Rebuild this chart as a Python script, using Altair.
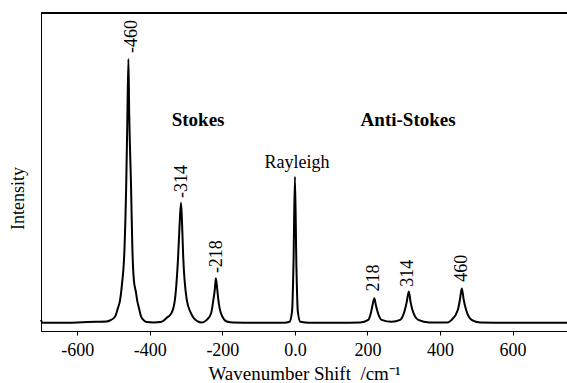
import altair as alt
import pandas as pd

# Spectrum trace (wavenumber shift, relative intensity)
shift = [-700, -696, -650, -600, -550, -519, -510, -496, -488, -482, -477, -470, -465, -462,
         -459, -457, -452, -448, -444, -438, -435, -430, -424, -416, -409, -390, -370,
         -354, -340, -331, -322, -318, -314, -311, -308, -298, -287, -266, -257,
         -243, -231, -225, -221, -218, -214, -211, -204, -188, -170, -100, -30,
         -15, -8, -4, 0, 4, 8, 15, 40, 120, 180,
         202, 210, 214, 219, 223, 228, 239, 267,
         290, 303, 308, 314, 319, 324, 340, 370, 420,
         432, 449, 455, 460, 465, 472, 487, 510, 600, 700, 750]
intensity = [3.5, 2.6, 2.6, 2.7, 2.9, 3.0, 3.3, 4.5, 7.2, 9.7, 14.5, 25.5, 46.5, 66.4,
             85.5, 69.5, 46.5, 25.5, 16.0, 12.0, 9.7, 7.2, 4.5, 3.3, 2.8, 2.7, 2.8,
             4.1, 5.7, 9.7, 23.4, 33.3, 40.3, 33.3, 23.4, 9.7, 5.7, 2.9, 2.7,
             3.5, 5.6, 9.7, 12.9, 16.6, 12.9, 9.7, 5.6, 3.0, 2.7, 2.6, 2.6,
             2.9, 6.1, 20.8, 48.5, 20.8, 6.1, 2.9, 2.6, 2.6, 2.7,
             3.5, 6.0, 8.2, 10.3, 8.2, 6.0, 3.5, 2.9,
             3.5, 6.6, 9.0, 12.4, 9.0, 6.6, 3.5, 2.7, 2.7,
             3.5, 6.6, 10.0, 13.4, 10.0, 6.6, 3.5, 2.7, 2.6, 2.6, 2.6]

# Rotated peak labels
peak_labels = ["-460", "-314", "-218", "218", "314", "460"]
peak_x = [-449, -310, -216, 218, 312, 460]
peak_y = [87.4, 41.8, 18.2, 12.4, 13.9, 15.5]

# Region labels
region_labels = ["Stokes", "Anti-Stokes"]
region_x = [-267, 312]
region_y = [66.4, 66.4]

ray_label = ["Rayleigh"]
ray_x = [5.5]
ray_y = [52.8]

tick_values = [-600, -400, -200, 0, 200, 400, 600]

spec = pd.DataFrame({"shift": shift, "intensity": intensity})
peaks = pd.DataFrame({"label": peak_labels, "x": peak_x, "y": peak_y})
regions = pd.DataFrame({"label": region_labels, "x": region_x, "y": region_y})
ray = pd.DataFrame({"label": ray_label, "x": ray_x, "y": ray_y})

FONT = "Liberation Serif"

xscale = alt.Scale(domain=[-700, 750], nice=False, zero=False)
yscale = alt.Scale(domain=[0, 100], nice=False, zero=False)

line = alt.Chart(spec).mark_line(color="black", strokeWidth=2, interpolate="monotone").encode(
    x=alt.X("shift:Q", scale=xscale,
            axis=alt.Axis(title="Wavenumber Shift\u00a0\u00a0/cm\u207b\u00b9", values=tick_values,
                          labelExpr="datum.value == 0 ? '0.0' : '' + datum.value",
                          grid=False, tickSize=4, tickColor="black", domainColor="black",
                          labelFont=FONT, labelFontSize=18, labelColor="black", labelPadding=6,
                          titleFont=FONT, titleFontSize=19, titleFontWeight="normal",
                          titleColor="black", titlePadding=5, labelFlush=False)),
    y=alt.Y("intensity:Q", scale=yscale,
            axis=alt.Axis(title="Intensity", labels=False, ticks=False, grid=False,
                          domainColor="black", titleFont=FONT, titleFontSize=18,
                          titleFontWeight="normal", titleColor="black",
                          titleX=-23, titleY=185, titleAngle=270,
                          titleAlign="center", titleBaseline="middle")),
)

top = alt.Chart(spec).mark_rule(color="black", strokeWidth=1).encode(y=alt.value(0))

plabels = alt.Chart(peaks).mark_text(angle=270, align="left", baseline="middle",
                                      font=FONT, fontSize=18, color="black").encode(
    x=alt.X("x:Q", scale=xscale), y=alt.Y("y:Q", scale=yscale), text="label:N")

rlabels = alt.Chart(regions).mark_text(align="center", baseline="middle", font=FONT,
                                        fontSize=19, fontWeight="bold", color="black").encode(
    x=alt.X("x:Q", scale=xscale), y=alt.Y("y:Q", scale=yscale), text="label:N")

raylabel = alt.Chart(ray).mark_text(align="center", baseline="middle", font=FONT,
                                     fontSize=18, color="black").encode(
    x=alt.X("x:Q", scale=xscale), y=alt.Y("y:Q", scale=yscale), text="label:N")

chart = alt.layer(line, top, plabels, rlabels, raylabel).properties(
    width=526, height=318,
    padding={"left": 41, "top": 13, "right": 0, "bottom": 52},
    autosize="none",
).configure_view(stroke=None).configure(background="white")

chart.save("out.html", embed_options={"renderer": "svg", "actions": False})
